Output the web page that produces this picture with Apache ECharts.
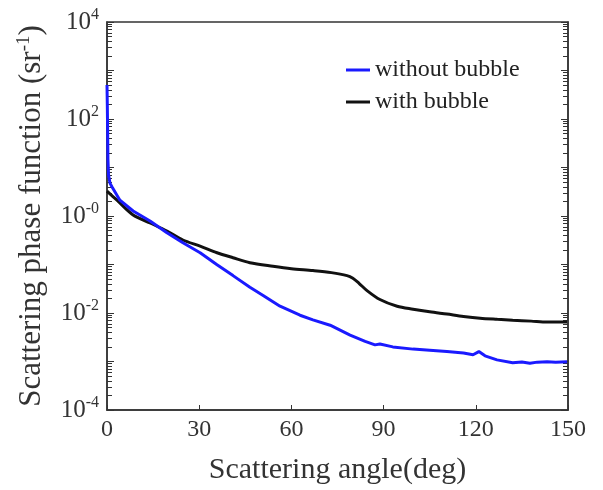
<!DOCTYPE html>
<html>
<head>
<meta charset="utf-8">
<script src="https://cdn.jsdelivr.net/npm/echarts@6/dist/echarts.min.js"></script>
<style>
  html, body { margin: 0; padding: 0; background: #fff; }
  #main { width: 603px; height: 490px; }
</style>
</head>
<body>
<div id="main"></div>
<script>
// angles (deg) and phase function values
const blueX = [0, 0.1, 0.2, 0.3, 0.5, 1.0, 1.6, 4.2, 8.5, 14, 19.5, 24.7, 30.3, 35.8, 41, 46.5, 50.8, 56.3, 62.8, 67, 72.6, 79.1, 84, 87.2, 88.8, 93, 99.6, 105, 110.6, 116, 119.1, 121, 123, 126.9, 132, 135, 137.6, 140, 143.2, 146, 149.7];
const blueY = [500, 200, 60, 15, 7, 4.7, 4.0, 2.12, 1.27, 0.79, 0.45, 0.28, 0.175, 0.099, 0.059, 0.034, 0.023, 0.0138, 0.009, 0.0072, 0.0056, 0.0035, 0.0026, 0.0022, 0.0023, 0.0020, 0.0018, 0.0017, 0.0016, 0.0015, 0.00138, 0.0016, 0.00131, 0.00108, 0.00094, 0.00098, 0.00092, 0.00097, 0.00099, 0.00096, 0.00099];
const blackX = [0, 3.25, 8.5, 14, 19.5, 24.7, 30.3, 35.8, 41, 46.5, 54, 60, 67, 73, 78.1, 80, 82, 84.6, 88.8, 94.4, 99.6, 105, 110.6, 116, 121.4, 127, 132, 138, 143.2, 149.7];
const blackY = [3.25, 2.12, 1.05, 0.72, 0.49, 0.32, 0.24, 0.175, 0.138, 0.109, 0.092, 0.082, 0.075, 0.068, 0.059, 0.052, 0.041, 0.029, 0.019, 0.0138, 0.012, 0.0106, 0.0095, 0.0085, 0.0078, 0.0074, 0.0071, 0.0068, 0.0065, 0.0065];

const xTicks = [0, 30, 60, 90, 120, 150];
const yLabelExps = { '-4': '-4', '-2': '-2', '0': '-0', '2': '2', '4': '4' };
const decades = [-4, -3, -2, -1, 0, 1, 2, 3];

const seriesNames = ['without bubble', 'with bubble'];

function pairs(xs, ys) {
  return xs.map((x, i) => [x, ys[i]]);
}

// minor tick positions 2..9 x 10^k
const minorVals = [];
decades.forEach(k => {
  for (let m = 2; m <= 9; m++) minorVals.push(m * Math.pow(10, k));
});

const chart = echarts.init(document.getElementById('main'));
const font = 'Liberation Serif';
const axisCol = '#333';

const logAxis = {
  type: 'log',
  logBase: 10,
  min: 1e-4,
  max: 1e4,
  interval: 1,
  axisLine: { show: true, lineStyle: { color: axisCol, width: 1.5 } },
  axisTick: { show: true, inside: true, length: 7, lineStyle: { color: axisCol } },
  splitLine: { show: false },
};

function minorAxis(pos) {
  return Object.assign({}, logAxis, {
    position: pos,
    axisLine: { show: false },
    axisLabel: { show: false },
    axisTick: { show: true, inside: true, length: 5, customValues: minorVals, lineStyle: { color: '#333', width: 1 } }
  });
}

chart.setOption({
  animation: false,
  grid: { left: 107, right: 35, top: 22, bottom: 77, show: true, borderColor: axisCol, borderWidth: 1.5 },
  legend: {
    orient: 'vertical',
    left: 341,
    top: 53,
    itemGap: 8,
    itemWidth: 24,
    itemHeight: 3,
    icon: 'rect',
    textStyle: { fontFamily: font, fontSize: 24, color: '#222' },
    data: seriesNames,
  },
  xAxis: {
    type: 'value',
    min: xTicks[0],
    max: xTicks[xTicks.length - 1],
    interval: 30,
    name: 'Scattering angle(deg)',
    nameLocation: 'middle',
    nameGap: 45,
    nameTextStyle: { fontFamily: font, fontSize: 30, color: '#333' },
    axisLine: { show: true, lineStyle: { color: axisCol, width: 1.5 } },
    axisTick: { show: true, inside: true, length: 5, lineStyle: { color: axisCol } },
    axisLabel: { fontFamily: font, fontSize: 24, color: '#333', margin: 8 },
    splitLine: { show: false },
  },
  yAxis: [
    Object.assign({}, logAxis, {
      position: 'left',
      name: 'Scattering phase function (sr{sup|-1})',
      nameLocation: 'middle',
      nameGap: 58,
      nameRotate: 90,
      nameTextStyle: {
        fontFamily: font, fontSize: 31, color: '#333',
        rich: { sup: { fontFamily: font, fontSize: 19, color: '#333', verticalAlign: 'bottom', padding: [0, 0, 15, 0] } }
      },
      axisLabel: {
        margin: 8,
        formatter: function (v) {
          const e = String(Math.round(Math.log10(v)));
          if (!(e in yLabelExps)) return '';
          return '{b|10}{s|' + yLabelExps[e] + '}';
        },
        rich: {
          b: { fontFamily: font, fontSize: 25, color: '#333' },
          s: { fontFamily: font, fontSize: 16, color: '#333', verticalAlign: 'bottom', padding: [0, 0, 14, 0] }
        }
      }
    }),
    Object.assign({}, logAxis, {
      position: 'right',
      axisLabel: { show: false }
    }),
    minorAxis('left'),
    minorAxis('right')
  ],
  series: [
    {
      name: seriesNames[0],
      type: 'line',
      data: pairs(blueX, blueY),
      showSymbol: false,
      symbol: 'none',
      lineStyle: { color: '#1a1aff', width: 3 },
      itemStyle: { color: '#1a1aff' },
      z: 3
    },
    {
      name: seriesNames[1],
      type: 'line',
      data: pairs(blackX, blackY),
      showSymbol: false,
      symbol: 'none',
      smooth: 0.3,
      lineStyle: { color: '#111', width: 3 },
      itemStyle: { color: '#111' },
      z: 2
    }
  ]
});
</script>
</body>
</html>
